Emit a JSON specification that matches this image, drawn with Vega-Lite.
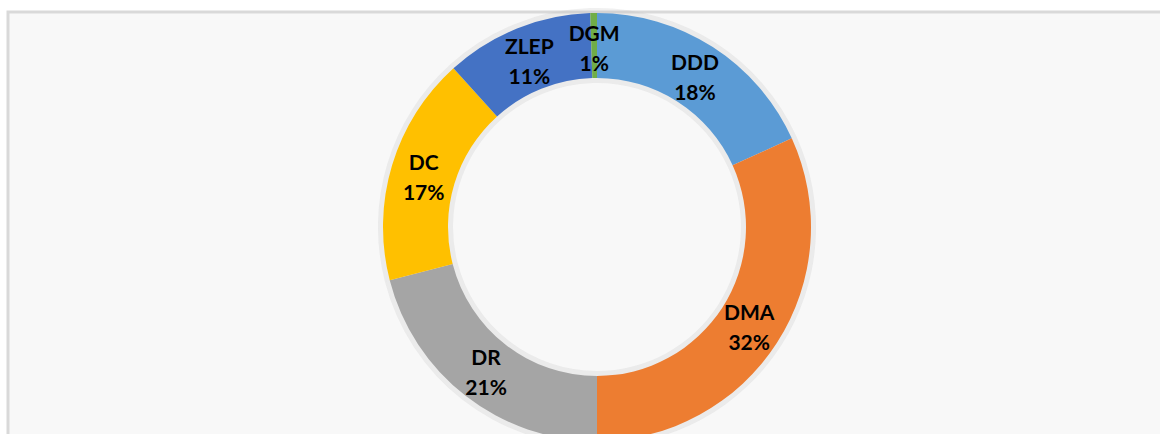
{
  "$schema": "https://vega.github.io/schema/vega-lite/v6.json",
  "width": 1178,
  "height": 430,
  "autosize": {"type": "none"},
  "padding": {"left": 8, "top": 12, "right": 0, "bottom": 0},
  "background": "white",
  "view": {"fill": "#f8f8f8", "stroke": "#d9d9d9", "strokeWidth": 3},
  "config": {
    "text": {"lineBreak": "\n"}
  },
  "data": {
    "values": [
      {"cat": "DDD", "value": 18.2, "pct": "18%", "rank": 1},
      {"cat": "DMA", "value": 31.8, "pct": "32%", "rank": 2},
      {"cat": "DR", "value": 21.0, "pct": "21%", "rank": 3},
      {"cat": "DC", "value": 17.3, "pct": "17%", "rank": 4},
      {"cat": "ZLEP", "value": 11.2, "pct": "11%", "rank": 5},
      {"cat": "DGM", "value": 0.5, "pct": "1%", "rank": 6}
    ]
  },
  "transform": [{"calculate": "datum.cat + '\\n' + datum.pct", "as": "label"}],
  "encoding": {
    "theta": {"field": "value", "type": "quantitative", "stack": true},
    "order": {"field": "rank", "type": "quantitative"}
  },
  "layer": [
    {
      "mark": {"type": "arc", "outerRadius": 219, "innerRadius": 144, "color": "#c4c4c4", "opacity": 0.25},
      "encoding": {"detail": {"field": "cat"}}
    },
    {
      "mark": {"type": "arc", "outerRadius": 214, "innerRadius": 149},
      "encoding": {
        "color": {
          "field": "cat",
          "type": "nominal",
          "scale": {
            "domain": ["DDD", "DMA", "DR", "DC", "ZLEP", "DGM"],
            "range": ["#5B9BD5", "#ED7D31", "#A5A5A5", "#FFC000", "#4472C4", "#70AD47"]
          },
          "legend": null
        }
      }
    },
    {
      "mark": {"type": "text", "radius": 181, "font": "Lato", "fontWeight": "bold", "fontSize": 21, "color": "black", "lineHeight": 30, "baseline": "middle", "dy": -11},
      "encoding": {"text": {"field": "label"}}
    }
  ]
}
